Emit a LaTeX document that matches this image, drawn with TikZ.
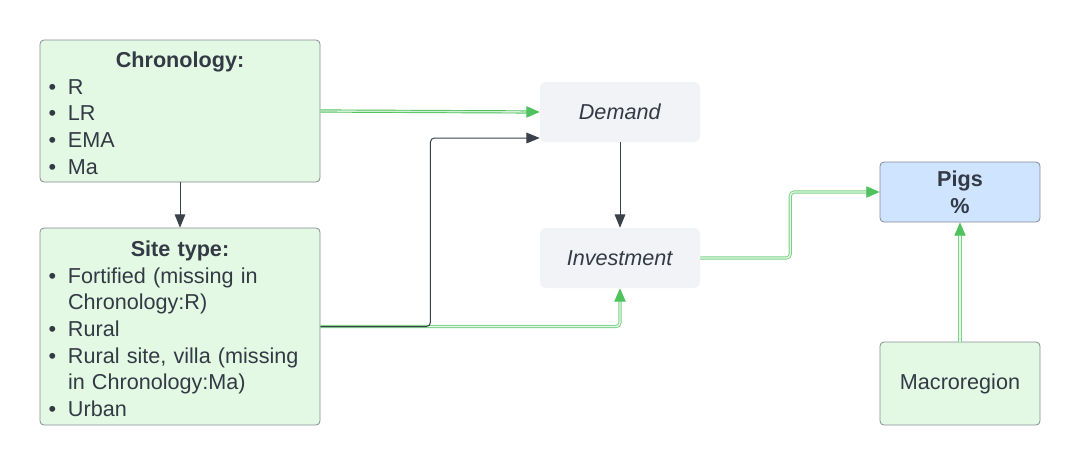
\documentclass[tikz,border=0pt]{standalone}
\usepackage{fontspec}
\setmainfont{Liberation Sans}
\usetikzlibrary{arrows.meta,calc}
\definecolor{txt}{HTML}{333A45}
\definecolor{gfill}{HTML}{E3F9E3}
\definecolor{bfill}{HTML}{CFE4FF}
\definecolor{qfill}{HTML}{F2F3F6}
\definecolor{bord}{HTML}{868B92}
\definecolor{gline}{HTML}{4FC25E}
\definecolor{dline}{HTML}{3A414B}
\newcommand{\bitem}[1]{\makebox[14.5pt][l]{\textbullet}#1}
\newcommand{\bcont}{\hspace*{14.5pt}}
\begin{document}
\begin{tikzpicture}[x=0.75pt,y=-0.75pt,
  every node/.style={text=txt,font=\fontsize{16.2}{20}\selectfont},
  gbox/.style={draw=bord,fill=gfill,rounded corners=3pt,line width=0.6pt},
  listbox/.style={gbox,align=left,text width=197pt,inner xsep=6.5pt,minimum width=210pt},
  qbox/.style={fill=qfill,rounded corners=4pt,minimum width=120pt,minimum height=45pt},
  bbox/.style={draw=bord,fill=bfill,rounded corners=3pt,line width=0.6pt,minimum width=120pt,minimum height=45pt,align=center},
  darrow/.style={draw=dline,line width=0.75pt,-{Triangle[length=10pt,width=8pt]},rounded corners=3pt},
  garrow/.style={draw=gline,double=gline!25,line width=0.7pt,double distance=1pt,-{Triangle[length=10pt,width=8.5pt,color=gline,fill=gline]},rounded corners=3pt},
  garrowl/.style={draw=gline!75,double=gline!15,line width=0.7pt,double distance=1pt,-{Triangle[length=10pt,width=8.5pt,color=gline,fill=gline]},rounded corners=3pt},
]
\useasboundingbox (0,0) rectangle (1080,465);
\node[listbox,minimum height=106.5pt] (chron) at (180,111) {\makebox[197pt]{\rule{0pt}{15pt}\textbf{Chronology:}}\\
\bitem{R}\\ \bitem{LR}\\ \bitem{EMA}\\ \bitem{Ma}};
\node[listbox,minimum height=147.75pt] (site) at (180,326.5) {\makebox[197pt]{\rule{0pt}{15pt}\textbf{Site type:}}\\
\bitem{Fortified (missing in}\\ \bcont Chronology:R)\\ \bitem{Rural}\\ \bitem{Rural site, villa (missing}\\ \bcont in Chronology:Ma)\\ \bitem{Urban}};
\node[qbox] (demand) at (620,112) {\textit{Demand}};
\node[qbox] (inv) at (620,258) {\textit{Investment}};
\node[bbox] (pigs) at (960,192) {\textbf{Pigs}\\ \textbf{\%}};
\node[gbox,minimum width=120pt,minimum height=62.25pt] (macro) at (960,383.5) {Macroregion};

\draw[darrow] (chron.south) -- (site.north);
\draw[darrow] (demand.south) -- (inv.north);
\draw[garrowl] (site.east) -| (inv.south);
\draw[darrow] (site.east) -- ++(110,0) |- ([yshift=-19.5pt]demand.west);
\draw[garrow] (chron.east) -- (demand.west);
\draw[garrowl] (inv.east) -- ++(90,0) |- (pigs.west);
\draw[garrowl] (macro.north) -- (pigs.south);
\end{tikzpicture}
\end{document}
